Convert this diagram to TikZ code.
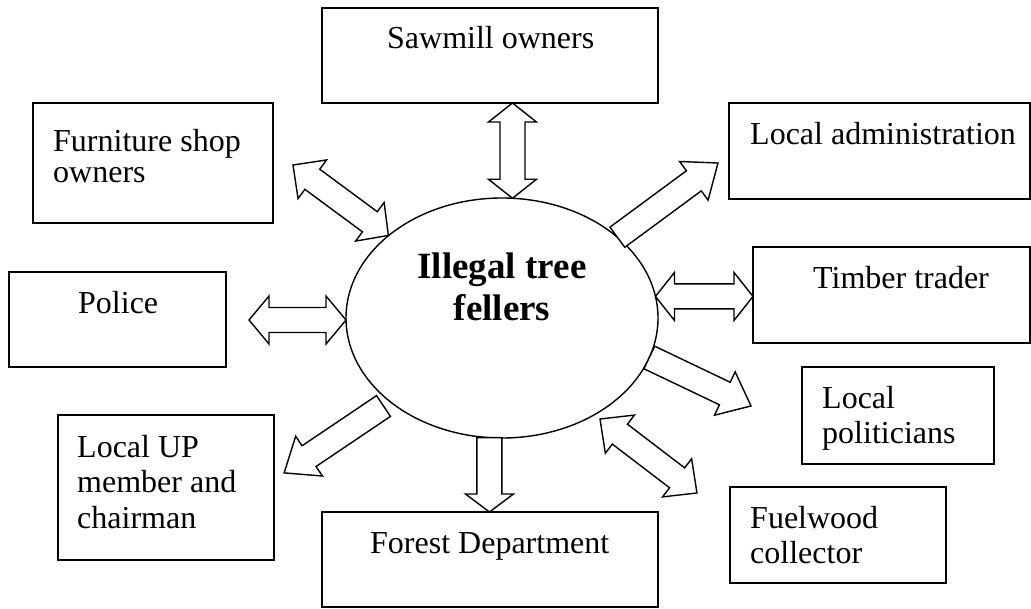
\documentclass[tikz,border=0pt]{standalone}
\usepackage{fontspec}
\setmainfont{Liberation Serif}
\usetikzlibrary{shapes.geometric,calc}

% half-widths of the block arrows: shaft and head
\newcommand\arSw{12.5}
\newcommand\arHw{24}

% block arrow with a head at the end only: #1 tail, #2 tip, #3 head length
\newcommand\oneway[3]{%
  \path (#1); \pgfgetlastxy{\arXa}{\arYa}%
  \path (#2); \pgfgetlastxy{\arXb}{\arYb}%
  \pgfmathsetmacro\arAng{atan2(\arYb-\arYa,\arXb-\arXa)}%
  \pgfmathsetmacro\arLen{veclen(\arXb-\arXa,\arYb-\arYa)}%
  \draw[blockarrow, shift={(\arXa,\arYa)}, rotate=\arAng]
    (0,\arSw) -- ({\arLen-#3},\arSw) -- ({\arLen-#3},\arHw) -- (\arLen,0)
    -- ({\arLen-#3},-\arHw) -- ({\arLen-#3},-\arSw) -- (0,-\arSw) -- cycle;
}

% block arrow with heads at both ends: #1, #2 ends, #3 and #4 head lengths
\newcommand\twoway[4]{%
  \path (#1); \pgfgetlastxy{\arXa}{\arYa}%
  \path (#2); \pgfgetlastxy{\arXb}{\arYb}%
  \pgfmathsetmacro\arAng{atan2(\arYb-\arYa,\arXb-\arXa)}%
  \pgfmathsetmacro\arLen{veclen(\arXb-\arXa,\arYb-\arYa)}%
  \draw[blockarrow, shift={(\arXa,\arYa)}, rotate=\arAng]
    (0,0) -- (#3,\arHw) -- (#3,\arSw) -- ({\arLen-#4},\arSw) -- ({\arLen-#4},\arHw)
    -- (\arLen,0) -- ({\arLen-#4},-\arHw) -- ({\arLen-#4},-\arSw)
    -- (#3,-\arSw) -- (#3,-\arHw) -- cycle;
}

\begin{document}
\begin{tikzpicture}[x=1pt,y=-1pt,
  box/.style={draw, line width=1.8pt, rectangle, inner sep=0pt, outer sep=0pt, anchor=north west},
  lbl/.style={anchor=base west, inner sep=0pt, font=\fontsize{32}{36}\selectfont},
  blockarrow/.style={draw, fill=white, line width=1.4pt, line join=miter}]
\useasboundingbox (0,0) rectangle (1031,608);

% boxes
\node[box, minimum width=336pt, minimum height=95pt]  (saw) at (322,8)   {};
\node[box, minimum width=240pt, minimum height=120pt] (fur) at (33,103)  {};
\node[box, minimum width=301pt, minimum height=96pt]  (adm) at (729,103) {};
\node[box, minimum width=277pt, minimum height=96pt]  (tim) at (753,247) {};
\node[box, minimum width=217pt, minimum height=95pt]  (pol) at (9,272)   {};
\node[box, minimum width=216pt, minimum height=145pt] (up)  at (58,415)  {};
\node[box, minimum width=192pt, minimum height=97pt]  (lpo) at (802,367) {};
\node[box, minimum width=216pt, minimum height=96pt]  (fue) at (730,487) {};
\node[box, minimum width=336pt, minimum height=95pt]  (for) at (322,512) {};

% box texts
\node[lbl] (sawt) at (387,48)  {Sawmill owners};
\node[lbl] (furt) at (53,151)  {\vtop{\baselineskip=31pt\hbox{Furniture shop}\hbox{owners}}};
\node[lbl] (admt) at (750,144) {Local administration};
\node[lbl] (timt) at (813,288) {Timber trader};
\node[lbl] (polt) at (78,313)  {Police};
\node[lbl] (upt)  at (77,457)  {\vtop{\baselineskip=35.5pt\hbox{Local UP}\hbox{member and}\hbox{chairman}}};
\node[lbl] (lpot) at (822,408) {\vtop{\baselineskip=35pt\hbox{Local}\hbox{politicians}}};
\node[lbl] (fuet) at (750,528) {\vtop{\baselineskip=35pt\hbox{Fuelwood}\hbox{collector}}};
\node[lbl] (fort) at (370,553) {Forest Department};

% central ellipse
\node[ellipse, draw, line width=1.4pt, minimum width=312pt, minimum height=240pt,
      inner sep=0pt, outer sep=0pt] (ill) at (502,318) {};
\node[anchor=base, inner sep=0pt, font=\bfseries\fontsize{37}{42}\selectfont] (illt) at (502,278)
  {\vtop{\baselineskip=42pt\hbox to 0pt{\hss Illegal tree\hss}\hbox to 0pt{\hss fellers\hss}}};

% free ends of the arrows
\coordinate (furE) at (293,165);
\coordinate (admE) at (718,163);
\coordinate (polE) at (249,320);
\coordinate (lpoE) at (751,406);
\coordinate (fueA) at (600,419);
\coordinate (fueB) at (697,493);
\coordinate (upA)  at (383.5,406);
\coordinate (upE)  at (284,473);

% arrows
\twoway{saw.south -| ill.85}{ill.85}{19}{19}
\twoway{furE}{ill.144}{24}{23}
\oneway{ill.35}{admE}{30}
\twoway{ill.8}{tim.west |- ill.8}{19}{19}
\twoway{polE}{polE -| ill.west}{20}{20}
\oneway{ill.-15}{lpoE}{29}
\twoway{fueA}{fueB}{25}{25}
\oneway{upA}{upE}{30}
\oneway{ill.-96}{for.north -| ill.-96}{18}
\end{tikzpicture}
\end{document}
